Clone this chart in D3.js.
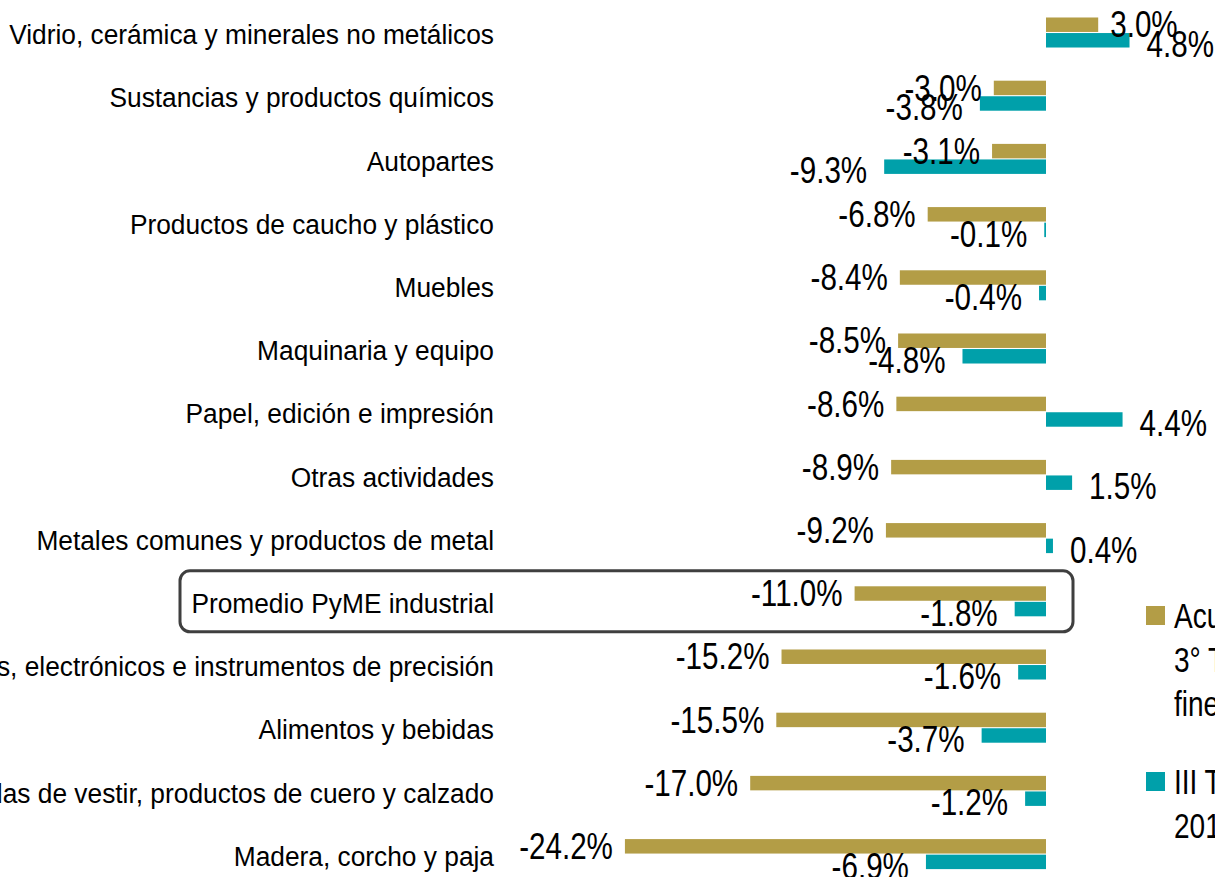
<!DOCTYPE html>
<html>
<head>
<meta charset="utf-8">
<script src="https://cdn.jsdelivr.net/npm/d3@7"></script>
<style>
  html, body { margin: 0; padding: 0; background: #fff; overflow: hidden; }
  svg { display: block; }
</style>
</head>
<body>
<svg id="chart" width="1215" height="877"></svg>
<script>
// categories, top to bottom
var categories = [
    "Vidrio, cerámica y minerales no metálicos",
    "Sustancias y productos químicos",
    "Autopartes",
    "Productos de caucho y plástico",
    "Muebles",
    "Maquinaria y equipo",
    "Papel, edición e impresión",
    "Otras actividades",
    "Metales comunes y productos de metal",
    "Promedio PyME industrial",
    "Aparatos eléctricos, electrónicos e instrumentos de precisión",
    "Alimentos y bebidas",
    "Textiles, prendas de vestir, productos de cuero y calzado",
    "Madera, corcho y paja"
]
// acumulado (gold)
var acumulado = [3.0, -3.0, -3.1, -6.8, -8.4, -8.5, -8.6, -8.9, -9.2, -11.0, -15.2, -15.5, -17.0, -24.2]
// III trimestre (teal)
var trimestre = [4.8, -3.8, -9.3, -0.1, -0.4, -4.8, 4.4, 1.5, 0.4, -1.8, -1.6, -3.7, -1.2, -6.9]
var seriesKeys = ["acum", "trim"]
var seriesColors = { acum: "#B39D46", trim: "#00A0AA" }
var legendLines = {
    acum: ["Acumulado a", "3° Trim. vs", "fines de 2018"],
    trim: ["III Trim.", "2019"]
}
var highlight = "Promedio PyME industrial"

var svg = d3.select("#chart")
var fontFam = "'Liberation Sans', Arial, sans-serif"

var rows = categories.map(function (c, i) {
    return { cat: c, acum: acumulado[i], trim: trimestre[i] }
})

var x = d3.scaleLinear().domain([-25, 5]).range([611, 1133])
var y = d3.scaleBand().domain(categories).range([0.9, 885.7]).paddingInner(0.525).paddingOuter(0.2625)
var ySub = d3.scaleBand().domain(seriesKeys).range([0, y.bandwidth()]).paddingInner(0.07)

// highlight box
svg.append("rect")
    .attr("x", 180)
    .attr("y", y(highlight) + y.bandwidth() / 2 - 30.5)
    .attr("width", 893)
    .attr("height", 61)
    .attr("rx", 10)
    .attr("fill", "none")
    .attr("stroke", "#3f3f3f")
    .attr("stroke-width", 3)

// category labels
svg.append("g").selectAll("text")
    .data(rows)
    .join("text")
    .attr("transform", d => `translate(494, ${y(d.cat) + y.bandwidth() / 2 + 2}) scale(0.94, 1)`)
    .attr("text-anchor", "end")
    .attr("dominant-baseline", "central")
    .style("font-family", fontFam)
    .style("font-size", "28px")
    .attr("fill", "#000")
    .text(d => d.cat)

// bars
var groups = svg.append("g").selectAll("g")
    .data(rows)
    .join("g")
    .attr("transform", d => `translate(0, ${y(d.cat)})`)

groups.selectAll("rect")
    .data(d => seriesKeys.map(k => ({ key: k, value: d[k] })))
    .join("rect")
    .attr("x", d => x(Math.min(0, d.value)))
    .attr("y", d => ySub(d.key))
    .attr("width", d => Math.abs(x(d.value) - x(0)))
    .attr("height", ySub.bandwidth())
    .attr("fill", d => seriesColors[d.key])

// value labels, plain hyphen as minus
var locale = d3.formatLocale({ decimal: ".", thousands: ",", grouping: [3], currency: ["", ""], minus: "-" })
var fmt = d => locale.format(".1f")(d) + "%"
groups.selectAll("text")
    .data(d => seriesKeys.map(k => ({ key: k, value: d[k] })))
    .join("text")
    .attr("transform", function (d) {
        var gap = d.key == "acum" ? 12 : 17
        var xx = d.value >= 0 ? x(d.value) + gap : x(d.value) - gap
        var yy = ySub(d.key) + ySub.bandwidth() / 2 + (d.key == "acum" ? 0 : 4)
        return `translate(${xx}, ${yy}) scale(0.8, 1)`
    })
    .attr("text-anchor", d => d.value >= 0 ? "start" : "end")
    .attr("dominant-baseline", "central")
    .style("font-family", fontFam)
    .style("font-size", "37px")
    .attr("fill", "#000")
    .text(d => fmt(d.value))

// legend
var legendPos = { acum: 606, trim: 772 }
var legend = svg.append("g").selectAll("g")
    .data(seriesKeys)
    .join("g")
    .attr("transform", k => `translate(1146, ${legendPos[k]})`)

legend.append("rect")
    .attr("width", 19)
    .attr("height", 19)
    .attr("fill", k => seriesColors[k])

legend.each(function (k) {
    d3.select(this).selectAll("text")
        .data(legendLines[k])
        .join("text")
        .attr("transform", (t, i) => `translate(28, ${10 + i * 44}) scale(0.8, 1)`)
        .attr("dominant-baseline", "central")
        .style("font-family", fontFam)
        .style("font-size", "35px")
        .attr("fill", "#000")
        .text(t => t)
})
</script>
</body>
</html>
